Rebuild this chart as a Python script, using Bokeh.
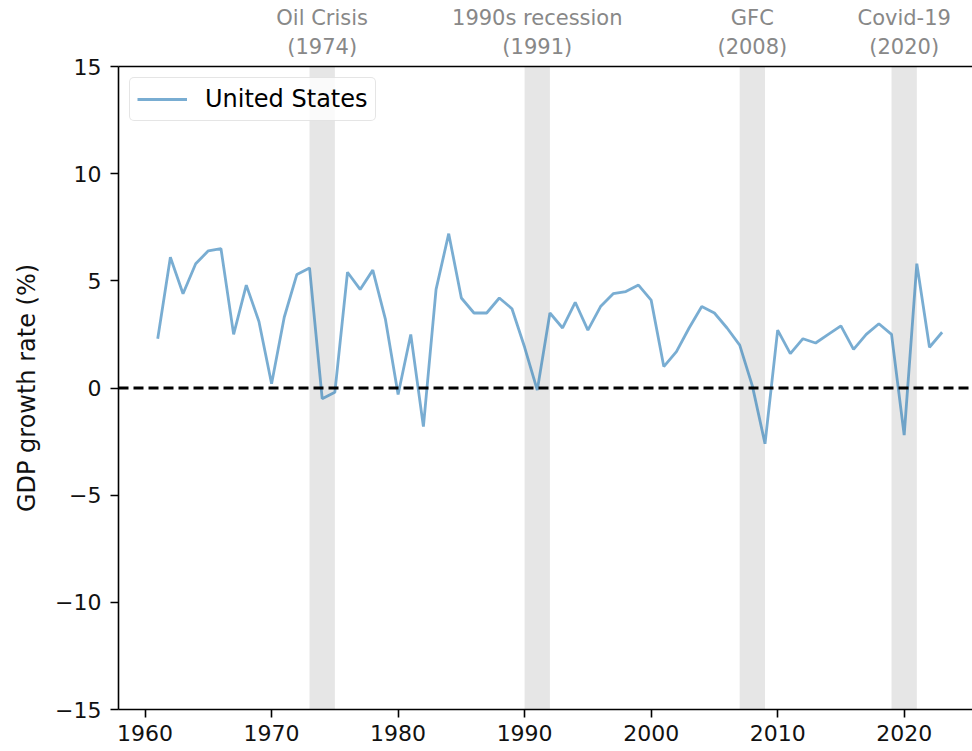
from bokeh.plotting import figure
from bokeh.models import (ColumnDataSource, Range1d, LinearAxis, FixedTicker,
                          BoxAnnotation, Span, Legend, LegendItem)
from bokeh.embed import file_html
from bokeh.resources import INLINE

# ---------------- data ----------------
years = list(range(1961, 2024))
gdp_growth = [2.3, 6.1, 4.4, 5.8, 6.4, 6.5, 2.5, 4.8, 3.1, 0.2,
              3.3, 5.3, 5.6, -0.5, -0.2, 5.4, 4.6, 5.5, 3.2, -0.3,
              2.5, -1.8, 4.6, 7.2, 4.2, 3.5, 3.5, 4.2, 3.7, 1.9,
              -0.1, 3.5, 2.8, 4.0, 2.7, 3.8, 4.4, 4.5, 4.8, 4.1,
              1.0, 1.7, 2.8, 3.8, 3.5, 2.8, 2.0, 0.1, -2.6, 2.7,
              1.6, 2.3, 2.1, 2.5, 2.9, 1.8, 2.5, 3.0, 2.5, -2.2,
              5.8, 1.9, 2.6]
series_name = "United States"

event_names = ["Oil Crisis", "1990s recession", "GFC", "Covid-19"]
event_years = [1974, 1991, 2008, 2020]
event_starts = [1973, 1990, 2007, 2019]
event_ends = [1975, 1992, 2009, 2021]

x_ticks = [1960, 1970, 1980, 1990, 2000, 2010, 2020]
y_ticks = [-15, -10, -5, 0, 5, 10, 15]
y_label = "GDP growth rate (%)"

FONT = "DejaVu Sans"

p = figure(width=972, height=751, output_backend="svg", toolbar_location=None,
           x_range=Range1d(1957.9, 2025.4), y_range=Range1d(-15, 15),
           min_border_left=118, min_border_right=0, min_border_top=66,
           min_border_bottom=42)
p.outline_line_color = None
p.xgrid.visible = False
p.ygrid.visible = False
p.background_fill_color = "white"

# recession shading
for s, e in zip(event_starts, event_ends):
    p.add_layout(BoxAnnotation(left=s, right=e, fill_color="gray", fill_alpha=0.2,
                               line_color=None, level="underlay"))

# zero line
p.add_layout(Span(location=0, dimension="width", line_color="black",
                  line_width=3, line_dash="10 5"))

src = ColumnDataSource(dict(x=years, y=gdp_growth))
r = p.line("x", "y", source=src, line_color="#1f77b4", line_alpha=0.6, line_width=2.8)

legend = Legend(items=[LegendItem(label=series_name, renderers=[r])],
                location="top_left")
legend.label_text_font = FONT
legend.label_text_font_size = "24px"
legend.label_text_color = "black"
legend.glyph_width = 50
legend.glyph_height = 28
legend.label_standoff = 18
legend.padding = 7
legend.margin = 11
legend.border_line_color = "#cccccc"
legend.border_line_width = 1
legend.border_radius = 5
legend.background_fill_alpha = 0.8
p.add_layout(legend)

# bottom axis
xa = p.below[0]
xa.ticker = FixedTicker(ticks=x_ticks)
xa.axis_line_width = 1.6
xa.axis_line_color = "black"
xa.major_tick_in = 0
xa.major_tick_out = 8
xa.major_tick_line_width = 1.6
xa.minor_tick_line_color = None
xa.major_label_standoff = 7
xa.major_label_text_font = FONT
xa.major_label_text_font_size = "22px"
xa.major_label_text_color = "#111111"

# left axis
ya = p.left[0]
ya.ticker = FixedTicker(ticks=y_ticks)
ya.major_label_overrides = {t: (str(t).replace("-", "\u2212")) for t in y_ticks}
ya.axis_line_width = 1.6
ya.axis_line_color = "black"
ya.major_tick_in = 0
ya.major_tick_out = 8
ya.major_tick_line_width = 1.6
ya.minor_tick_line_color = None
ya.major_label_standoff = 9
ya.major_label_text_font = FONT
ya.major_label_text_font_size = "22px"
ya.major_label_text_color = "#111111"
ya.axis_label = y_label
ya.axis_label_text_font = FONT
ya.axis_label_text_font_size = "24px"
ya.axis_label_text_font_style = "normal"
ya.axis_label_text_color = "#111111"
ya.axis_label_standoff = 11

# top axis with event labels
ta = LinearAxis(ticker=FixedTicker(ticks=event_years))
ta.major_label_overrides = {y: f"{n}\n({y})" for n, y in zip(event_names, event_years)}
ta.axis_line_width = 1.6
ta.axis_line_color = "black"
ta.major_tick_in = 0
ta.major_tick_out = 0
ta.minor_tick_line_color = None
ta.major_label_standoff = 8
ta.major_label_text_font = FONT
ta.major_label_text_font_size = "21px"
ta.major_label_text_color = "#888888"
p.add_layout(ta, "above")

open("out.html", "w").write(file_html(p, INLINE))
